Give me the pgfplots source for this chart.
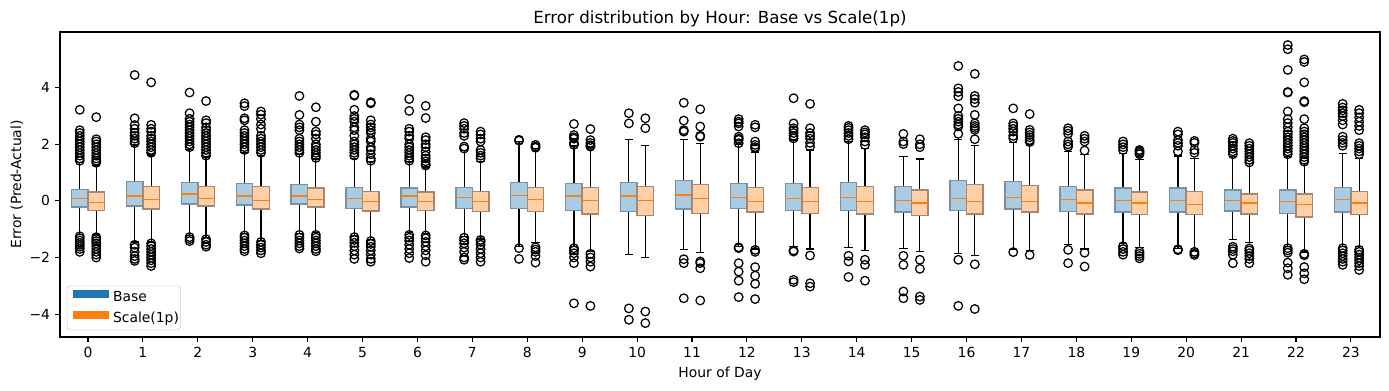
\documentclass[border=0pt]{standalone}
\usepackage{fontspec}
\setmainfont{DejaVu Sans}
\usepackage{pgfplots}
\pgfplotsset{compat=1.18}
\usepgfplotslibrary{statistics}
\definecolor{tabblue}{HTML}{1F77B4}
\definecolor{taborange}{HTML}{FF7F0E}
\definecolor{bfill}{RGB}{170,204,227}
\definecolor{ofill}{RGB}{255,208,166}
\definecolor{bedge}{RGB}{120,145,165}
\definecolor{oedge}{RGB}{165,135,115}
\pgfplotsset{
 bxcommon/.style={forget plot, black, line width=0.85pt, mark=o, mark size=3.1pt,
   mark options={solid, black, line width=0.9pt, fill=none},
   boxplot/draw direction=y,
   boxplot/box extend=0.3, boxplot/whisker extend=0.15,
   boxplot/every median/.style={draw=taborange, line width=1pt},
   boxplot/every whisker/.style={draw=black, line width=0.85pt}},
 bxB/.style={bxcommon, boxplot/every box/.style={fill=bfill, draw=bedge, line width=1pt}},
 bxS/.style={bxcommon, boxplot/every box/.style={fill=ofill, draw=oedge, line width=1pt}},
}
% #1 position, #2 lower whisker, #3 lower quartile, #4 median, #5 upper quartile, #6 upper whisker, #7 style, #8 outliers
\newcommand{\bx}[8]{\addplot[#7, boxplot prepared={draw position=#1, lower whisker=#2, lower quartile=#3, median=#4, upper quartile=#5, upper whisker=#6}] table[row sep=\\, y index=0] {d\\ #8};}
\begin{document}
\begin{tikzpicture}
\begin{axis}[
  at={(0,0)}, anchor=south west, scale only axis,
  width=950.4pt, height=219.6pt,
  xmin=-0.51, xmax=23.53, ymin=-4.81, ymax=5.97,
  xtick={0,...,23}, ytick={-4,-2,0,2,4}, yticklabels={−4,−2,0,2,4},
  /pgf/number format/assume math mode=true,
  tick align=outside, tick pos=left, major tick length=3.5pt,
  tick style={black, line width=0.8pt},
  axis line style={line width=0.8pt},
  every tick label/.append style={font=\fontsize{10}{12}\selectfont},
  xticklabel style={inner sep=0pt, anchor=north, yshift=-3.5pt},
  yticklabel style={inner sep=0pt, anchor=east, xshift=-3.5pt},
  title={Error distribution by Hour: Base vs Scale(1p)},
  every axis title shift=0pt,
  title style={at={(axis description cs:0.5,1.0273)}, anchor=base, inner sep=0pt, font=\fontsize{12}{14}\selectfont},
  xlabel={Hour of Day},
  xlabel style={at={(axis description cs:0.5,-0.1325)}, anchor=base, inner sep=0pt, font=\fontsize{10}{12}\selectfont},
  ylabel={Error (Pred-Actual)},
  ylabel style={at={(axis description cs:-0.02946,0.5)}, anchor=base, rotate=0, inner sep=0pt, font=\fontsize{10}{12}\selectfont},
  legend style={at={(axis description cs:0,0)}, anchor=south west, xshift=5pt, yshift=5pt,
    draw=black!20, rounded corners=2pt, fill=white, fill opacity=0.8, text opacity=1,
    font=\fontsize{10}{12}\selectfont, inner xsep=1pt, inner ysep=3pt, row sep=4.4pt,
    nodes={inner sep=0pt, text height=7.5pt, text depth=2.5pt},
    /tikz/every even column/.append style={column sep=4.8pt}},
  legend cell align=left,
]
\addlegendimage{legend image code/.code={\draw[tabblue, line width=6pt] (0pt,2.6pt) -- (26pt,2.6pt);}}
\addlegendentry{Base}
\addlegendimage{legend image code/.code={\draw[taborange, line width=6pt] (0pt,2.6pt) -- (26pt,2.6pt);}}
\addlegendentry{Scale(1p)}
% hour 0
\bx{-0.15}{-1.18}{-0.22}{0.09}{0.41}{1.36}{bxB}{3.22\\2.5\\2.4\\2.3\\2.2\\2.1\\2.0\\1.9\\1.8\\1.7\\1.6\\1.5\\1.42\\-1.25\\-1.32\\-1.4\\-1.48\\-1.55\\-1.62\\-1.7\\-1.8\\}
\bx{0.15}{-1.2}{-0.33}{-0.05}{0.31}{1.25}{bxS}{2.96\\2.18\\2.1\\2.0\\1.9\\1.8\\1.7\\1.6\\1.5\\1.42\\1.35\\-1.28\\-1.35\\-1.42\\-1.5\\-1.6\\-1.7\\-1.8\\-1.9\\-2.0\\}
% hour 1
\bx{0.85}{-1.45}{-0.18}{0.18}{0.68}{1.98}{bxB}{4.45\\2.92\\2.68\\2.55\\2.4\\2.3\\2.2\\2.1\\2.04\\-1.55\\-1.65\\-1.8\\-1.95\\-2.05\\-2.12\\}
\bx{1.15}{-1.45}{-0.29}{0.06}{0.52}{1.62}{bxS}{4.19\\2.69\\2.55\\2.45\\2.3\\2.2\\2.1\\2.0\\1.9\\1.8\\1.7\\-1.5\\-1.6\\-1.7\\-1.8\\-1.9\\-2.0\\-2.1\\-2.2\\-2.3\\}
% hour 2
\bx{1.85}{-1.22}{-0.11}{0.24}{0.66}{1.82}{bxB}{3.83\\3.1\\2.9\\2.8\\2.7\\2.6\\2.5\\2.4\\2.3\\2.2\\2.1\\2.0\\1.9\\-1.28\\-1.35\\-1.42\\}
\bx{2.15}{-1.28}{-0.18}{0.09}{0.52}{1.55}{bxS}{3.53\\2.85\\2.75\\2.6\\2.5\\2.4\\2.3\\2.2\\2.1\\2.0\\1.9\\1.8\\1.7\\1.6\\-1.35\\-1.45\\-1.55\\-1.62\\}
% hour 3
\bx{2.85}{-1.15}{-0.14}{0.18}{0.62}{1.72}{bxB}{3.45\\3.35\\2.92\\2.85\\2.5\\2.4\\2.3\\2.2\\2.1\\2.0\\1.9\\1.8\\-1.22\\-1.3\\-1.4\\-1.5\\-1.6\\-1.7\\-1.78\\}
\bx{3.15}{-1.4}{-0.28}{0.02}{0.52}{1.6}{bxS}{3.16\\3.05\\2.9\\2.7\\2.55\\2.3\\2.2\\2.1\\2.0\\1.9\\1.8\\1.7\\-1.45\\-1.55\\-1.65\\-1.75\\-1.85\\}
% hour 4
\bx{3.85}{-1.15}{-0.11}{0.18}{0.59}{1.65}{bxB}{3.71\\3.04\\2.7\\2.6\\2.5\\2.2\\2.1\\2.0\\1.9\\1.8\\1.7\\-1.2\\-1.3\\-1.4\\-1.5\\-1.6\\-1.68\\}
\bx{4.15}{-1.13}{-0.22}{0.06}{0.45}{1.48}{bxS}{3.31\\2.8\\2.45\\2.35\\2.2\\2.0\\1.9\\1.8\\1.7\\1.6\\1.52\\-1.2\\-1.3\\-1.4\\-1.5\\-1.6\\-1.7\\-1.78\\}
% hour 5
\bx{4.85}{-1.22}{-0.26}{0.09}{0.48}{1.5}{bxB}{3.75\\3.72\\3.22\\3.0\\2.9\\2.8\\2.6\\2.5\\2.3\\2.1\\2.0\\1.9\\1.8\\1.7\\1.6\\-1.28\\-1.38\\-1.48\\-1.6\\-1.75\\-1.9\\-2.05\\}
\bx{5.15}{-1.35}{-0.35}{-0.01}{0.33}{1.38}{bxS}{3.49\\3.45\\2.85\\2.7\\2.6\\2.5\\2.4\\2.2\\2.1\\1.9\\1.8\\1.65\\1.5\\1.42\\-1.42\\-1.52\\-1.62\\-1.75\\-1.9\\-2.05\\-2.15\\}
% hour 6
\bx{5.85}{-1.13}{-0.22}{0.18}{0.45}{1.38}{bxB}{3.6\\3.18\\2.55\\2.45\\2.3\\2.2\\2.0\\1.9\\1.8\\1.7\\1.6\\1.5\\1.42\\-1.2\\-1.3\\-1.4\\-1.55\\-1.7\\-1.85\\-2.02\\}
\bx{6.15}{-1.15}{-0.33}{-0.01}{0.31}{1.2}{bxS}{3.36\\2.93\\2.25\\2.15\\2.0\\1.9\\1.75\\1.6\\1.5\\1.4\\1.3\\1.25\\-1.22\\-1.32\\-1.45\\-1.6\\-1.75\\-1.92\\-2.15\\}
% hour 7
\bx{6.85}{-1.25}{-0.26}{0.13}{0.48}{1.78}{bxB}{2.75\\2.65\\2.55\\2.4\\2.3\\1.92\\1.85\\-1.3\\-1.4\\-1.5\\-1.65\\-1.8\\-2.0\\-2.08\\}
\bx{7.15}{-1.35}{-0.37}{-0.01}{0.34}{1.38}{bxS}{2.45\\2.35\\2.2\\2.1\\1.8\\1.7\\1.6\\1.5\\-1.38\\-1.45\\-1.55\\-1.7\\-1.85\\-2.0\\-2.15\\}
% hour 8
\bx{7.85}{-1.6}{-0.27}{0.2}{0.65}{2.1}{bxB}{2.16\\2.13\\-1.67\\-2.05\\}
\bx{8.15}{-1.46}{-0.37}{0.06}{0.48}{1.85}{bxS}{1.98\\1.92\\1.88\\-1.64\\-1.72\\-1.8\\-1.95\\-2.18\\}
% hour 9
\bx{8.85}{-1.6}{-0.33}{0.18}{0.62}{1.95}{bxB}{2.72\\2.33\\2.25\\2.2\\2.05\\1.98\\-1.67\\-1.75\\-1.85\\-2.0\\-2.2\\-3.62\\}
\bx{9.15}{-1.79}{-0.46}{0.02}{0.48}{1.9}{bxS}{2.54\\2.15\\2.05\\1.97\\1.92\\-1.87\\-2.0\\-2.15\\-2.32\\-3.71\\}
% hour 10
\bx{9.85}{-1.88}{-0.37}{0.18}{0.66}{2.16}{bxB}{3.1\\2.74\\-3.8\\-4.2\\}
\bx{10.15}{-1.99}{-0.51}{0.02}{0.52}{1.97}{bxS}{2.92\\2.57\\-3.91\\-4.32\\}
% hour 11
\bx{10.85}{-1.73}{-0.29}{0.21}{0.73}{2.18}{bxB}{3.47\\2.84\\2.5\\2.45\\-2.06\\-2.2\\-3.44\\}
\bx{11.15}{-1.81}{-0.44}{0.09}{0.59}{2.04}{bxS}{3.24\\2.63\\2.3\\2.27\\-2.14\\-2.2\\-2.38\\-3.52\\}
% hour 12
\bx{11.85}{-1.6}{-0.26}{0.13}{0.62}{2.0}{bxB}{2.89\\2.8\\2.74\\2.63\\2.27\\2.2\\2.16\\2.04\\-1.64\\-1.67\\-2.2\\-2.5\\-2.82\\-3.4\\}
\bx{12.15}{-1.7}{-0.39}{-0.01}{0.48}{1.7}{bxS}{2.69\\2.6\\2.1\\1.98\\1.9\\1.86\\-1.73\\-1.8\\-2.34\\-2.64\\-2.93\\-3.47\\}
% hour 13
\bx{12.85}{-1.61}{-0.33}{0.09}{0.62}{2.15}{bxB}{3.63\\2.74\\2.57\\2.5\\2.4\\2.3\\2.21\\-1.75\\-1.79\\-2.79\\-2.87\\}
\bx{13.15}{-1.7}{-0.44}{-0.01}{0.48}{1.8}{bxS}{3.43\\2.57\\2.4\\2.3\\2.2\\2.05\\1.92\\-1.93\\-2.91\\-3.03\\}
% hour 14
\bx{13.85}{-1.64}{-0.33}{0.13}{0.65}{2.1}{bxB}{2.65\\2.58\\2.5\\2.4\\2.3\\2.18\\-1.94\\-2.14\\-2.69\\}
\bx{14.15}{-1.74}{-0.46}{-0.01}{0.52}{1.86}{bxS}{2.5\\2.42\\2.35\\2.25\\2.1\\1.98\\-2.08\\-2.26\\-2.82\\}
% hour 15
\bx{14.85}{-1.67}{-0.39}{0.02}{0.52}{1.58}{bxB}{2.37\\2.1\\2.01\\-1.94\\-2.26\\-3.2\\-3.44\\}
\bx{15.15}{-1.78}{-0.51}{-0.08}{0.38}{1.48}{bxS}{2.18\\2.0\\1.9\\-2.08\\-2.4\\-3.38\\-3.5\\}
% hour 16
\bx{15.85}{-1.85}{-0.34}{0.09}{0.73}{2.16}{bxB}{4.77\\3.98\\3.85\\3.7\\3.27\\3.0\\2.9\\2.8\\2.7\\2.63\\2.37\\-2.08\\-3.71\\}
\bx{16.15}{-1.92}{-0.46}{-0.01}{0.59}{1.97}{bxS}{4.49\\3.71\\3.6\\3.47\\3.04\\2.74\\2.65\\2.58\\2.51\\2.18\\-2.24\\-3.82\\}
% hour 17
\bx{16.85}{-1.73}{-0.29}{0.13}{0.68}{2.06}{bxB}{3.27\\2.74\\2.65\\2.55\\2.45\\2.3\\2.21\\-1.81\\}
\bx{17.15}{-1.75}{-0.39}{-0.01}{0.55}{1.98}{bxS}{3.07\\2.51\\2.42\\2.33\\2.25\\2.15\\2.08\\-1.91\\}
% hour 18
\bx{17.85}{-1.55}{-0.37}{0.06}{0.52}{1.74}{bxB}{2.57\\2.48\\2.38\\2.1\\2.0\\1.92\\-1.73\\-2.2\\}
\bx{18.15}{-1.7}{-0.46}{-0.08}{0.38}{1.63}{bxS}{2.3\\2.2\\2.1\\1.78\\-1.83\\-2.32\\}
% hour 19
\bx{18.85}{-1.5}{-0.39}{0.02}{0.45}{1.68}{bxB}{2.1\\2.0\\1.9\\1.8\\-1.6\\-1.7\\-1.8\\-1.9\\}
\bx{19.15}{-1.64}{-0.49}{-0.08}{0.31}{1.45}{bxS}{1.8\\1.75\\1.7\\1.65\\-1.79\\-1.87\\-1.95\\-2.03\\}
% hour 20
\bx{19.85}{-1.67}{-0.39}{0.02}{0.45}{1.59}{bxB}{2.45\\2.35\\2.15\\2.05\\1.95\\1.75\\-1.71\\-1.74\\}
\bx{20.15}{-1.75}{-0.49}{-0.12}{0.34}{1.51}{bxS}{2.12\\2.05\\1.8\\1.7\\-1.8\\-1.86\\-1.91\\}
% hour 21
\bx{20.85}{-1.35}{-0.35}{0.02}{0.38}{1.57}{bxB}{2.2\\2.12\\2.05\\1.95\\1.85\\1.75\\1.65\\-1.62\\-1.7\\-1.78\\-1.9\\-2.2\\}
\bx{21.15}{-1.47}{-0.46}{-0.08}{0.24}{1.31}{bxS}{2.04\\1.95\\1.85\\1.75\\1.65\\1.55\\1.45\\1.36\\-1.68\\-1.75\\-1.85\\-1.95\\-2.05\\-2.2\\}
% hour 22
\bx{21.85}{-1.61}{-0.45}{-0.01}{0.38}{1.57}{bxB}{5.51\\5.36\\4.63\\3.85\\3.83\\3.16\\2.89\\2.75\\2.6\\2.45\\2.35\\2.25\\2.15\\2.05\\1.95\\1.85\\1.75\\1.65\\-1.67\\-1.75\\-1.83\\-2.18\\-2.38\\-2.61\\}
\bx{22.15}{-1.81}{-0.57}{-0.12}{0.24}{1.33}{bxS}{5.0\\4.91\\4.19\\3.53\\3.49\\2.89\\2.57\\2.45\\2.35\\2.25\\2.15\\2.05\\1.95\\1.85\\1.75\\1.65\\1.55\\1.45\\1.39\\-1.87\\-1.92\\-2.34\\-2.56\\-2.77\\}
% hour 23
\bx{22.85}{-1.61}{-0.39}{0.06}{0.48}{1.68}{bxB}{3.43\\3.3\\3.2\\3.1\\3.0\\2.85\\2.7\\2.27\\2.15\\2.05\\1.95\\-1.67\\-1.75\\-1.85\\-1.95\\-2.05\\-2.15\\-2.26\\}
\bx{23.15}{-1.62}{-0.49}{-0.08}{0.34}{1.51}{bxS}{3.22\\3.1\\2.95\\2.8\\2.65\\2.5\\2.04\\1.95\\1.85\\1.75\\1.65\\-1.73\\-1.8\\-1.9\\-2.0\\-2.1\\-2.2\\-2.3\\-2.44\\}
\end{axis}
\pgfresetboundingbox
\path[use as bounding box] (-43.2pt,-38.16pt) rectangle (956.88pt,242.64pt);
\end{tikzpicture}
\end{document}
